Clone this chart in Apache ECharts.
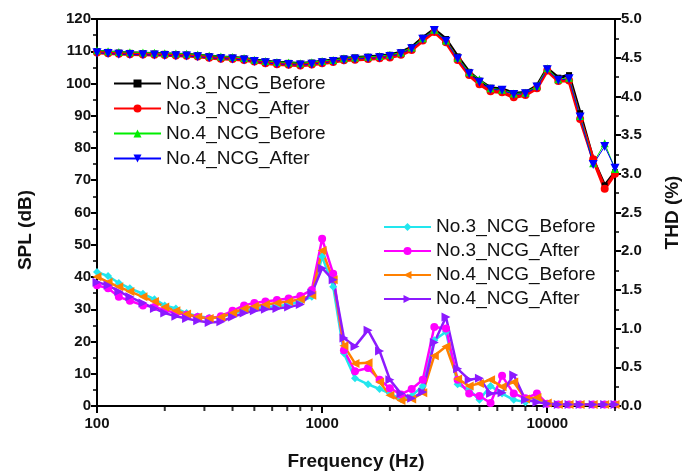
<!DOCTYPE html>
<html>
<head>
<meta charset="utf-8">
<script src="https://cdn.jsdelivr.net/npm/echarts@6/dist/echarts.min.js"></script>
<style>
  html, body { margin: 0; padding: 0; background: #fff; }
  #chart { width: 682px; height: 475px; }
</style>
</head>
<body>
<div id="chart"></div>
<script>
const freqs = [100, 112, 125, 140, 160, 180, 200, 224, 250, 280, 315, 355, 400, 450, 500, 560, 630, 710, 800, 900,
  1000, 1120, 1250, 1400, 1600, 1800, 2000, 2240, 2500, 2800, 3150, 3550, 4000, 4500, 5000, 5600, 6300, 7100, 8000, 9000,
  10000, 11200, 12500, 14000, 16000, 18000, 20000];

// SPL (dB), left axis
const splNo3Before = [110.0, 109.8, 109.6, 109.5, 109.4, 109.3, 109.2, 109.1, 109.0, 108.8, 108.5, 108.2, 108.1, 107.8, 107.3, 106.9, 106.6, 106.4, 106.2, 106.5,
  106.9, 107.3, 107.8, 108.1, 108.3, 108.5, 108.9, 109.7, 111.3, 114.2, 116.8, 113.8, 108.4, 103.6, 100.9, 98.7, 98.3, 97.0, 97.2, 99.3,
  104.7, 101.8, 102.6, 90.8, 76.5, 68.4, 72.5];
const splNo3After = [109.6, 109.4, 109.2, 109.1, 109.0, 108.9, 108.8, 108.7, 108.6, 108.4, 108.0, 107.7, 107.6, 107.3, 106.8, 106.3, 106.0, 105.8, 105.6, 105.9,
  106.3, 106.7, 107.2, 107.4, 107.6, 107.8, 108.1, 108.9, 110.4, 113.3, 116.0, 112.8, 107.3, 102.6, 99.8, 97.6, 97.3, 95.7, 96.4, 98.5,
  104.0, 100.8, 100.9, 89.0, 76.5, 67.4, 72.0];
const splNo4Before = [110.3, 110.0, 109.8, 109.7, 109.6, 109.5, 109.4, 109.3, 109.2, 109.0, 108.7, 108.4, 108.2, 107.9, 107.4, 107.0, 106.7, 106.5, 106.3, 106.6,
  107.0, 107.3, 107.8, 108.1, 108.3, 108.5, 108.9, 109.6, 111.2, 114.0, 116.7, 113.3, 108.0, 103.5, 101.3, 98.5, 98.1, 96.9, 97.1, 99.3,
  104.7, 101.3, 101.8, 89.9, 75.3, 81.5, 73.5];
const splNo4After = [109.5, 109.3, 109.1, 109.0, 108.9, 108.8, 108.7, 108.6, 108.5, 108.3, 108.0, 107.7, 107.6, 107.3, 106.8, 106.4, 106.1, 105.9, 105.7, 106.0,
  106.4, 106.8, 107.3, 107.6, 107.8, 108.0, 108.4, 109.2, 110.8, 113.7, 116.4, 113.1, 107.7, 103.0, 100.4, 98.2, 97.9, 96.6, 96.8, 98.9,
  104.3, 101.0, 101.5, 89.6, 74.9, 80.5, 73.7];

// THD (%), right axis
const thdNo3Before = [1.73, 1.68, 1.59, 1.52, 1.45, 1.38, 1.30, 1.26, 1.20, 1.16, 1.14, 1.15, 1.19, 1.23, 1.26, 1.28, 1.29, 1.31, 1.35, 1.41,
  1.93, 1.54, 0.68, 0.36, 0.28, 0.22, 0.16, 0.09, 0.13, 0.26, 0.85, 0.96, 0.28, 0.21, 0.08, 0.26, 0.16, 0.08, 0.05, 0.08,
  0.03, 0.02, 0.02, 0.02, 0.02, 0.02, 0.02];
const thdNo3After = [1.56, 1.52, 1.41, 1.36, 1.30, 1.28, 1.24, 1.20, 1.18, 1.15, 1.13, 1.16, 1.23, 1.30, 1.33, 1.35, 1.37, 1.39, 1.42, 1.50,
  2.16, 1.71, 0.72, 0.45, 0.49, 0.34, 0.23, 0.15, 0.22, 0.34, 1.02, 1.00, 0.34, 0.16, 0.13, 0.04, 0.39, 0.16, 0.10, 0.16,
  0.03, 0.02, 0.02, 0.02, 0.02, 0.02, 0.02];
const thdNo4Before = [1.67, 1.60, 1.54, 1.48, 1.41, 1.35, 1.28, 1.23, 1.19, 1.15, 1.13, 1.15, 1.20, 1.26, 1.29, 1.31, 1.33, 1.35, 1.38, 1.43,
  2.01, 1.63, 0.78, 0.55, 0.56, 0.31, 0.14, 0.07, 0.09, 0.17, 0.65, 0.77, 0.35, 0.26, 0.29, 0.34, 0.25, 0.31, 0.09, 0.11,
  0.04, 0.02, 0.02, 0.02, 0.02, 0.02, 0.02];
const thdNo4After = [1.60, 1.56, 1.48, 1.41, 1.33, 1.26, 1.20, 1.16, 1.13, 1.10, 1.08, 1.09, 1.15, 1.20, 1.23, 1.25, 1.26, 1.28, 1.31, 1.46,
  1.78, 1.63, 0.88, 0.77, 0.98, 0.71, 0.34, 0.16, 0.10, 0.18, 0.82, 1.15, 0.48, 0.34, 0.36, 0.16, 0.17, 0.40, 0.08, 0.05,
  0.03, 0.02, 0.02, 0.02, 0.02, 0.02, 0.02];

// minor tick positions on the log frequency axis
const xMinorTicks = [200, 300, 400, 500, 600, 700, 800, 900, 2000, 3000, 4000, 5000, 6000, 7000, 8000, 9000, 20000];

const pair = arr => freqs.map((f, i) => [f, arr[i]]);

const font = '"Liberation Sans", Arial, sans-serif';

const mkLine = (name, data, color, symbol, size, width, axis, rotate) => ({
  name, type: 'line', data: pair(data), yAxisIndex: axis,
  symbol, symbolSize: size, symbolRotate: rotate || 0,
  showSymbol: true,
  lineStyle: { color, width },
  itemStyle: { color, borderWidth: 0 },
  emphasis: { disabled: true },
  animation: false
});

const chart = echarts.init(document.getElementById('chart'));
chart.setOption({
  backgroundColor: '#fff',
  animation: false,
  grid: { left: 97, right: 67, top: 19, bottom: 69, containLabel: false, outerBoundsMode: 'none',
    show: true, borderColor: '#000', borderWidth: 2, backgroundColor: 'transparent' },
  legend: [{
    orient: 'vertical', left: 113, top: 71, padding: 0, itemGap: 0,
    itemWidth: 47, itemHeight: 10,
    textStyle: { fontFamily: font, fontSize: 19, color: '#111', lineHeight: 25 },
    data: ['No.3_NCG_Before', 'No.3_NCG_After', 'No.4_NCG_Before', 'No.4_NCG_After'].map(n => ({ name: n }))
  }, {
    orient: 'vertical', left: 383, top: 215, padding: 0, itemGap: 0,
    itemWidth: 47, itemHeight: 10,
    textStyle: { fontFamily: font, fontSize: 19, color: '#111', lineHeight: 24 },
    data: ['No.3_NCG_Before ', 'No.3_NCG_After ', 'No.4_NCG_Before ', 'No.4_NCG_After '].map(n => ({ name: n }))
  }],
  xAxis: {
    type: 'log', logBase: 10, min: 100, max: 20000,
    name: 'Frequency (Hz)', nameLocation: 'middle', nameGap: 46,
    nameTextStyle: { fontFamily: font, fontSize: 19, fontWeight: 'bold', color: '#111' },
    axisLine: { lineStyle: { color: '#000', width: 2 } },
    axisTick: { length: 7, lineStyle: { color: '#000', width: 2 } },
    axisLabel: { fontFamily: font, fontSize: 15, fontWeight: 'bold', color: '#111', margin: 10, showMaxLabel: false,
      formatter: v => String(Math.round(v)) },
    splitLine: { show: false }
  },
  yAxis: [{
    type: 'value', min: 0, max: 120, interval: 10,
    name: 'SPL (dB)', nameLocation: 'middle', nameGap: 62, nameRotate: 90,
    nameTextStyle: { fontFamily: font, fontSize: 19, fontWeight: 'bold', color: '#111', padding: [0, 35, 0, 0] },
    axisLine: { show: true, lineStyle: { color: '#000', width: 2 } },
    axisTick: { show: true, length: 6, lineStyle: { color: '#000', width: 2 } },
    minorTick: { show: true, splitNumber: 2, length: 4, lineStyle: { color: '#000', width: 1.5 } },
    axisLabel: { fontFamily: font, fontSize: 15, fontWeight: 'bold', color: '#111', margin: 6 },
    splitLine: { show: false }
  }, {
    type: 'value', min: 0, max: 5, interval: 0.5, position: 'right',
    name: 'THD (%)', nameLocation: 'middle', nameGap: 48, nameRotate: 90,
    nameTextStyle: { fontFamily: font, fontSize: 19, fontWeight: 'bold', color: '#111' },
    axisLine: { show: true, lineStyle: { color: '#000', width: 2 } },
    axisTick: { show: true, length: 6, lineStyle: { color: '#000', width: 2 } },
    minorTick: { show: true, splitNumber: 2, length: 4, lineStyle: { color: '#000', width: 1.5 } },
    axisLabel: { fontFamily: font, fontSize: 15, fontWeight: 'bold', color: '#111', margin: 6, formatter: v => v.toFixed(1) },
    splitLine: { show: false }
  }],
  series: [
    mkLine('No.3_NCG_Before', splNo3Before, '#000000', 'rect', 6, 3, 0),
    mkLine('No.3_NCG_After', splNo3After, '#ff0000', 'circle', 8, 3.5, 0),
    mkLine('No.4_NCG_Before', splNo4Before, '#00ee00', 'triangle', 8, 1, 0),
    mkLine('No.4_NCG_After', splNo4After, '#0000ff', 'triangle', 9, 1, 0, 180),
    mkLine('No.3_NCG_Before ', thdNo3Before, '#22e6ee', 'diamond', 8, 2.5, 1),
    mkLine('No.3_NCG_After ', thdNo3After, '#ff00ff', 'circle', 8, 2.5, 1),
    mkLine('No.4_NCG_Before ', thdNo4Before, '#ff8000', 'triangle', 9, 2.5, 1, 90),
    mkLine('No.4_NCG_After ', thdNo4After, '#8c1aff', 'triangle', 9, 2.5, 1, -90),
    {
      type: 'scatter', yAxisIndex: 0, silent: true, clip: false,
      data: xMinorTicks.map(v => [v, 0]),
      symbol: 'rect', symbolSize: [2, 4], symbolOffset: [0, 3],
      itemStyle: { color: '#000' }, z: 5
    }
  ]
});
</script>
</body>
</html>
